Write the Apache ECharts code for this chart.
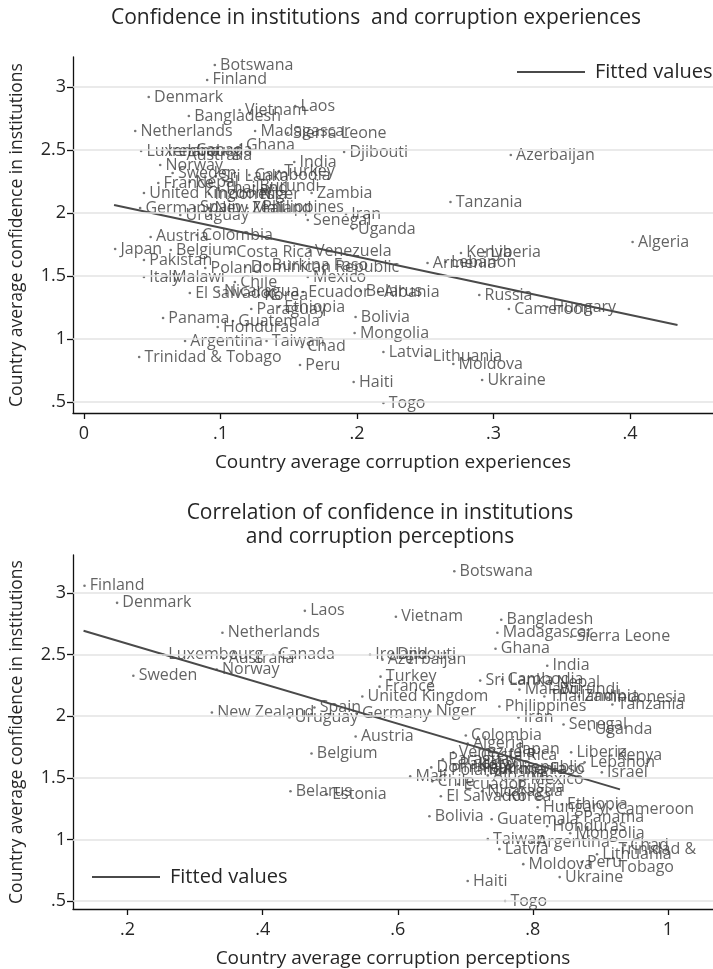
<!DOCTYPE html>
<html><head><meta charset="utf-8">
<script src="https://cdn.jsdelivr.net/npm/echarts@6/dist/echarts.min.js"></script>
<style>html,body{margin:0;padding:0;background:#fff}#c{width:713px;height:969px}</style>
</head><body><div id="c"></div>
<script>
// ---- Top chart: corruption experiences ----
const expCountries = ["Botswana","Finland","Denmark","Bangladesh","Vietnam","Laos","Netherlands","Madagascar","Sierra Leone","Ghana",
"Luxembourg","Ireland","Canada","Australia","India","Djibouti","Norway","Sweden","Sri Lanka","Cambodia",
"Turkey","France","Nepal","Thailand","Burundi","United Kingdom","Indonesia","Niger","Zambia","Germany",
"Spain","New Zealand","Uruguay","Mali","Philippines","Iran","Senegal","Uganda","Austria","Colombia",
"Japan","Belgium","Costa Rica","Venezuela","Pakistan","Burkina Faso","Dominican Republic","Poland","Italy","Malawi",
"Chile","Mexico","El Salvador","Nicaragua","Korea","Ecuador","Belarus","Albania","Ethiopia","Paraguay",
"Panama","Guatemala","Honduras","Argentina","Taiwan","Chad","Trinidad & Tobago","Peru","Haiti","Togo",
"Bolivia","Mongolia","Latvia","Lithuania","Moldova","Ukraine","Russia","Cameroon","Hungary","Armenia",
"Lebanon","Kenya","Liberia","Algeria","Tanzania","Azerbaijan"];
const expX = [0.0958,0.0902,0.0474,0.0768,0.1140,0.1547,0.0375,0.1253,0.1491,0.1147,
0.0418,0.0572,0.0782,0.0712,0.1540,0.1905,0.0558,0.0649,0.0965,0.1211,
0.1428,0.0544,0.0775,0.0986,0.1246,0.0439,0.0916,0.1246,0.1667,0.0411,
0.0811,0.0916,0.0705,0.1196,0.1267,0.1919,0.1639,0.1968,0.0488,0.0825,
0.0228,0.0635,0.1077,0.1653,0.0439,0.1337,0.1182,0.0888,0.0439,0.0607,
0.1105,0.1639,0.0775,0.0986,0.1281,0.1604,0.2025,0.2158,0.1428,0.1225,
0.0579,0.1091,0.0979,0.0740,0.1337,0.1596,0.0404,0.1582,0.1975,0.2193,
0.1989,0.1982,0.2193,0.2516,0.2705,0.2916,0.2895,0.3112,0.3393,0.2516,
0.2649,0.2761,0.2937,0.4018,0.2684,0.3126];
const expY = [3.175,3.056,2.921,2.770,2.817,2.849,2.651,2.651,2.635,2.540,
2.492,2.492,2.500,2.460,2.405,2.484,2.381,2.317,2.294,2.302,
2.333,2.238,2.246,2.198,2.214,2.159,2.151,2.151,2.159,2.040,
2.048,2.040,1.984,2.040,2.048,1.992,1.944,1.873,1.810,1.825,
1.714,1.706,1.690,1.698,1.627,1.587,1.571,1.563,1.492,1.492,
1.452,1.492,1.365,1.381,1.349,1.373,1.381,1.373,1.254,1.238,
1.167,1.143,1.095,0.984,0.984,0.937,0.857,0.794,0.659,0.492,
1.175,1.048,0.897,0.865,0.802,0.675,1.349,1.238,1.254,1.603,
1.611,1.683,1.690,1.770,2.087,2.460];
const expFitX = [0.022, 0.4347];
const expFitY = [2.063, 1.111];
const expXTicks = [0, 0.1, 0.2, 0.3, 0.4];

// ---- Bottom chart: corruption perceptions ----
const percCountries = ["Finland","Denmark","Laos","Vietnam","Botswana","Netherlands","Luxembourg","Australia","Canada","Norway",
"Sweden","Ireland","Djibouti","Azerbaijan","Turkey","France","United Kingdom","New Zealand","Uruguay","Spain",
"Germany","Niger","Austria","Belgium","Colombia","Bangladesh","Madagascar","Sierra Leone","Ghana","India",
"Sri Lanka","Cambodia","Nepal","Malawi","Burundi","Thailand","Zambia","Indonesia","Tanzania","Philippines",
"Iran","Senegal","Uganda","Algeria","Japan","Venezuela","Costa Rica","Liberia","Kenya","Lebanon",
"Israel","Mexico","Nicaragua","Hungary","Ethiopia","Cameroon","Panama","Guatemala","Honduras","Mongolia",
"Taiwan","Argentina","Latvia","Chad","Trinidad & Tobago","Lithuania","Moldova","Peru","Ukraine","Haiti",
"Togo","Belarus","Estonia","Mali","Bolivia","Paraguay","Pakistan","Dominican Republic","Poland","Chile",
"El Salvador","Korea","Ecuador","Burkina Faso","Albania","Russia","Armenia","Italy"];
const percX = [0.1362,0.1844,0.4624,0.5972,0.6837,0.3404,0.2525,0.3418,0.4156,0.3319,
0.2085,0.5589,0.5915,0.5773,0.5745,0.5730,0.5475,0.3248,0.4397,0.4766,
0.5390,0.6482,0.5376,0.4723,0.7007,0.7532,0.7475,0.8567,0.7447,0.8213,
0.7220,0.7546,0.8270,0.7801,0.8312,0.8170,0.8681,0.9106,0.9177,0.7504,
0.7787,0.8454,0.8837,0.7035,0.7702,0.6823,0.7149,0.8567,0.9163,0.8766,
0.9021,0.7887,0.7248,0.8071,0.8426,0.9149,0.8667,0.7390,0.8213,0.8553,
0.7333,0.7986,0.7504,0.9362,0.9190,0.8950,0.7858,0.8723,0.8397,0.7035,
0.7589,0.4411,0.4950,0.6184,0.6468,0.6667,0.6837,0.6496,0.6709,0.6511,
0.6638,0.7546,0.6894,0.7262,0.7333,0.7688,0.7475,0.7121];
const percY = [3.057,2.919,2.854,2.806,3.175,2.676,2.498,2.466,2.498,2.377,
2.328,2.498,2.498,2.458,2.320,2.239,2.159,2.029,1.989,2.070,
2.021,2.037,1.835,1.697,1.843,2.782,2.676,2.644,2.547,2.409,
2.288,2.296,2.272,2.215,2.215,2.159,2.159,2.150,2.094,2.078,
1.989,1.932,1.892,1.778,1.730,1.706,1.681,1.706,1.681,1.625,
1.544,1.487,1.390,1.261,1.285,1.244,1.180,1.163,1.107,1.050,
1.002,0.977,0.921,0.953,0.848,0.880,0.799,0.816,0.694,0.662,
0.500,1.390,1.366,1.511,1.188,1.649,1.608,1.584,1.560,1.471,
1.350,1.350,1.447,1.568,1.519,1.422,1.568,1.608];
const percFitX = [0.1348, 0.929];
const percFitY = [2.693, 1.406];
const percXTicks = [0.2, 0.4, 0.6, 0.8, 1];

const yTicks = [0.5, 1, 1.5, 2, 2.5, 3];

// ---- styling ----
const FONT = 'Open Sans';
const TXT = '#262626';
const LBL = '#3c3c3c';
const fmt = v => (Math.abs(v) < 1e-9 ? '0' : String(+v.toFixed(2)).replace(/^0\./, '.'));

function pts(names, xs, ys, twoLine) {
  return names.map((n, i) => ({
    name: n, value: [xs[i], ys[i]],
    label: (twoLine && n === 'Trinidad & Tobago') ? {formatter: 'Trinidad &\nTobago', lineHeight: 18} : undefined
  }));
}
function xAxisCfg(idx, min, max, ticks, name) {
  return {
    type: 'value', gridIndex: idx, min: min, max: max,
    axisLine: {show: true, onZero: false, lineStyle: {color: '#111', width: 1.3}},
    axisTick: {show: true, customValues: ticks, length: 6, lineStyle: {color: '#111', width: 1.3}},
    axisLabel: {customValues: ticks, formatter: fmt, fontSize: 18, color: TXT, fontFamily: FONT, margin: 12},
    splitLine: {show: false},
    name: name, nameLocation: 'middle', nameGap: 40,
    nameTextStyle: {fontSize: 19, color: TXT, fontFamily: FONT}
  };
}
function yAxisCfg(idx, min, max) {
  return {
    type: 'value', gridIndex: idx, min: min, max: max,
    axisLine: {show: true, onZero: false, lineStyle: {color: '#111', width: 1.3}},
    axisTick: {show: true, customValues: yTicks, length: 6, lineStyle: {color: '#111', width: 1.3}},
    axisLabel: {customValues: yTicks, formatter: fmt, fontSize: 18, color: TXT, fontFamily: FONT, margin: 7},
    splitLine: {show: false},
    name: 'Country average confidence in institutions', nameLocation: 'middle', nameGap: 47,
    nameTextStyle: {fontSize: 17.5, color: TXT, fontFamily: FONT}
  };
}
function gridSeries(idx) {
  return {
    type: 'scatter', xAxisIndex: idx, yAxisIndex: idx, data: [], z: 1, silent: true,
    markLine: {silent: true, symbol: 'none', label: {show: false},
      lineStyle: {color: '#e3e3e3', width: 1.6, type: 'solid'},
      data: yTicks.map(v => ({yAxis: v}))}
  };
}
function scatterSeries(idx, names, xs, ys, twoLine) {
  return {
    type: 'scatter', xAxisIndex: idx, yAxisIndex: idx, z: 3,
    symbol: 'circle', symbolSize: 2.6, itemStyle: {color: '#555'},
    data: pts(names, xs, ys, twoLine),
    label: {show: true, position: 'right', distance: 4, formatter: '{b}',
      fontSize: 16, color: LBL, fontFamily: FONT},
    labelLayout: {hideOverlap: false}
  };
}
function fitSeries(idx, xs, ys) {
  return {
    name: 'Fitted values', type: 'line', xAxisIndex: idx, yAxisIndex: idx, z: 4,
    symbol: 'none', lineStyle: {color: '#4a4a4a', width: 2}, itemStyle: {color: '#4a4a4a'},
    data: xs.map((x, i) => [x, ys[i]])
  };
}

const chart = echarts.init(document.getElementById('c'), null, {renderer: 'canvas'});
chart.setOption({
  backgroundColor: '#fff',
  animation: false,
  title: [
    {text: 'Confidence in institutions  and corruption experiences', left: 371, top: 3, textAlign: 'center',
     textStyle: {fontSize: 21, fontWeight: 'normal', color: TXT, fontFamily: FONT}},
    {text: 'Correlation of confidence in institutions\nand corruption perceptions', left: 375, top: 496, textAlign: 'center',
     textStyle: {fontSize: 21, fontWeight: 'normal', color: TXT, fontFamily: FONT, lineHeight: 24}}
  ],
  legend: [
    {left: 512, top: 57, itemWidth: 68, itemHeight: 22, icon: 'path://M0,10 L68,10 L68,12 L0,12 Z', data: ['Fitted values'], selectedMode: false,
     textStyle: {fontSize: 20, color: TXT, fontFamily: FONT, padding: [0, 0, 0, 5]}},
    {left: 87, top: 862, itemWidth: 68, itemHeight: 22, icon: 'path://M0,10 L68,10 L68,12 L0,12 Z', data: ['Fitted values'], selectedMode: false,
     textStyle: {fontSize: 20, color: TXT, fontFamily: FONT, padding: [0, 0, 0, 5]}}
  ],
  grid: [
    {left: 72, top: 57, width: 668, height: 356, containLabel: false},
    {left: 72, top: 555, width: 668, height: 355, containLabel: false}
  ],
  xAxis: [
    xAxisCfg(0, -0.00807, 0.4607, expXTicks, 'Country average corruption experiences'),
    xAxisCfg(1, 0.11915, 1.0667, percXTicks, 'Country average corruption perceptions')
  ],
  yAxis: [
    yAxisCfg(0, 0.4127, 3.238),
    yAxisCfg(1, 0.4353, 3.307)
  ],
  series: [
    gridSeries(0), gridSeries(1),
    scatterSeries(0, expCountries, expX, expY, false),
    scatterSeries(1, percCountries, percX, percY, true),
    fitSeries(0, expFitX, expFitY),
    fitSeries(1, percFitX, percFitY)
  ]
});
</script></body></html>
